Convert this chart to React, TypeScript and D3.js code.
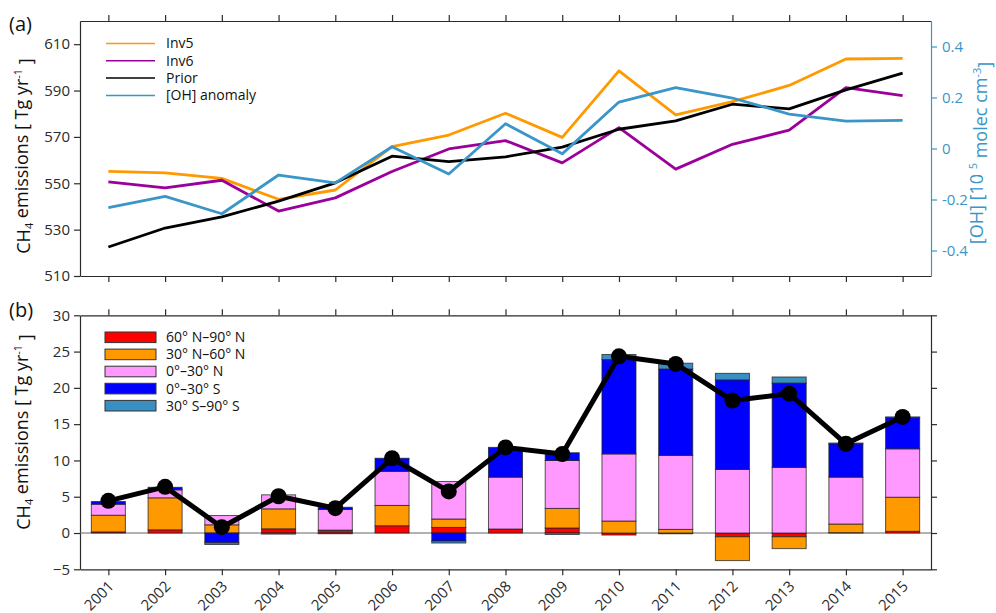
import { useEffect, useRef } from 'react';
import * as d3 from 'd3';

// years on the x axis
const years = [2001, 2002, 2003, 2004, 2005, 2006, 2007, 2008, 2009, 2010, 2011, 2012, 2013, 2014, 2015];

// panel (a): global emissions [Tg/yr] and OH anomaly [1e5 molec/cm3]
const inv5 = [555.1, 554.5, 552.1, 543.1, 547.1, 565.8, 570.8, 580.2, 569.8, 598.5, 579.5, 585.2, 592.2, 603.6, 603.9];
const inv6 = [550.6, 548.0, 551.3, 538.0, 543.7, 555.1, 564.8, 568.4, 558.8, 574.0, 556.1, 566.8, 572.9, 591.3, 587.8];
const prior = [522.5, 530.7, 535.5, 542.3, 550.2, 561.7, 559.3, 561.4, 565.6, 573.3, 576.9, 584.1, 582.1, 590.3, 597.5];
const ohAnomaly = [-0.232, -0.188, -0.256, -0.104, -0.135, 0.007, -0.1, 0.097, -0.021, 0.182, 0.239, 0.198, 0.135, 0.107, 0.11];

const leftTicksA = [510, 530, 550, 570, 590, 610];
const rightTicksA = [-0.4, -0.2, 0, 0.2, 0.4];

// panel (b): regional anomalies [Tg/yr]
const band60N90N = [0.15, 0.44, 0, 0.58, 0.35, 1.0, 0.77, 0.5, 0.69, -0.28, -0.1, -0.52, -0.52, 0.05, 0.23];
const band30N60N = [2.3, 4.41, 1.13, 2.75, 0.05, 2.8, 1.16, 0.05, 2.7, 1.65, 0.5, -3.28, -1.63, 1.19, 4.7];
const band0N30N = [1.52, 1.1, 1.28, 1.93, 2.85, 4.7, 5.17, 7.15, 6.61, 9.25, 10.2, 8.77, 9.05, 6.46, 6.67];
const band0S30S = [0.37, 0.35, -1.35, 0, 0.3, 1.8, -1.1, 4.1, 1.06, 13.0, 11.9, 12.33, 11.61, 4.6, 4.3];
const band30S90S = [0, 0, -0.23, -0.15, -0.1, 0, -0.28, 0, -0.2, 0.7, 0.8, 0.9, 0.84, 0.1, 0.1];
const totalB = [4.43, 6.36, 0.8, 5.07, 3.42, 10.3, 5.73, 11.8, 10.88, 24.35, 23.3, 18.25, 19.2, 12.3, 16.0];

const leftTicksB = [-5, 0, 5, 10, 15, 20, 25, 30];

const FONT = "'Open Sans', 'DejaVu Sans', sans-serif";
const AXIS = '#2b2b2b';
const OH_BLUE = '#3a96c8';

export default function App() {
  const ref = useRef<SVGSVGElement>(null);

  useEffect(() => {
    const svg = d3.select(ref.current);
    svg.selectAll('*').remove();

    const width = 996;
    const height = 613;
    svg.attr('width', width).attr('height', height);

    const x = d3.scaleLinear().domain([2000.5, 2015.5]).range([80, 931]);

    const styleAxis = (g: any, color: string) => {
      g.selectAll('path').attr('stroke', color).attr('stroke-width', 1.2);
      g.selectAll('line').attr('stroke', color).attr('stroke-width', 1.2);
      g.selectAll('text').attr('fill', color).style('font-size', '15px').style('font-family', FONT);
    };

    // ---------- panel (a) ----------
    const yA = d3.scaleLinear().domain([510, 620]).range([276, 21]);
    const yOH = d3.scaleLinear().domain([-0.5, 0.5]).range([276, 21]);

    const a = svg.append('g');

    a.append('g')
      .attr('transform', 'translate(0,21)')
      .call(d3.axisTop(x).tickValues(years).tickFormat(() => '').tickSize(6).tickSizeOuter(0))
      .call((g: any) => styleAxis(g, AXIS));
    a.append('g')
      .attr('transform', 'translate(0,276)')
      .call(d3.axisBottom(x).tickValues(years).tickFormat(() => '').tickSize(6).tickSizeOuter(0))
      .call((g: any) => styleAxis(g, AXIS));
    a.append('g')
      .attr('transform', 'translate(80,0)')
      .call(d3.axisLeft(yA).tickValues(leftTicksA).tickSize(6).tickSizeOuter(0).tickPadding(4))
      .call((g: any) => styleAxis(g, AXIS));
    a.append('g')
      .attr('transform', 'translate(931,0)')
      .call(d3.axisRight(yOH).tickValues(rightTicksA).tickFormat((d: any) => String(d)).tickSize(6).tickSizeOuter(0).tickPadding(5))
      .call((g: any) => styleAxis(g, OH_BLUE));

    const lineA = (vals: number[], y: any) =>
      d3.line<number>().x((_, i) => x(years[i])).y((d) => y(d))(vals);

    const seriesA = [
      { name: 'Inv5', vals: inv5, color: '#ff9900', y: yA },
      { name: 'Inv6', vals: inv6, color: '#9b009b', y: yA },
      { name: 'Prior', vals: prior, color: '#000000', y: yA },
      { name: '[OH] anomaly', vals: ohAnomaly, color: OH_BLUE, y: yOH },
    ];

    seriesA.forEach((s) => {
      a.append('path')
        .attr('fill', 'none')
        .attr('stroke', s.color)
        .attr('stroke-width', 2.8)
        .attr('stroke-linejoin', 'round')
        .attr('d', lineA(s.vals, s.y));
    });

    // legend (a)
    seriesA.forEach((s, i) => {
      const ly = 43.5 + i * 17.3;
      a.append('line')
        .attr('x1', 106).attr('x2', 155).attr('y1', ly).attr('y2', ly)
        .attr('stroke', s.color).attr('stroke-width', 1.5);
      a.append('text')
        .attr('x', 166).attr('y', ly).attr('dy', '0.35em')
        .style('font-family', FONT).style('font-size', '14px').attr('fill', '#111')
        .text(s.name);
    });

    // ---------- panel (b) ----------
    const yB = d3.scaleLinear().domain([-5, 30]).range([569.3, 315.3]);
    const b = svg.append('g');

    b.append('g')
      .attr('transform', 'translate(0,315.3)')
      .call(d3.axisTop(x).tickValues(years).tickFormat(() => '').tickSize(6).tickSizeOuter(0))
      .call((g: any) => styleAxis(g, AXIS));
    const bottomAxis = b.append('g')
      .attr('transform', 'translate(0,569.3)')
      .call(d3.axisBottom(x).tickValues(years).tickFormat(d3.format('d')).tickSize(6).tickSizeOuter(0))
      .call((g: any) => styleAxis(g, AXIS));
    bottomAxis.selectAll('text')
      .attr('text-anchor', 'end')
      .attr('dy', null)
      .attr('y', null)
      .attr('transform', 'translate(6,18) rotate(-45)');
    b.append('g')
      .attr('transform', 'translate(80,0)')
      .call(d3.axisLeft(yB).tickValues(leftTicksB).tickSize(6).tickSizeOuter(0).tickPadding(4))
      .call((g: any) => styleAxis(g, AXIS));
    b.append('g')
      .attr('transform', 'translate(931,0)')
      .call(d3.axisRight(yB).tickValues(leftTicksB).tickFormat(() => '').tickSize(6).tickSizeOuter(0))
      .call((g: any) => styleAxis(g, AXIS));

    // zero line
    b.append('line')
      .attr('x1', 80).attr('x2', 931).attr('y1', yB(0)).attr('y2', yB(0))
      .attr('stroke', '#666').attr('stroke-width', 1.2);

    const bands = [
      { key: 'n60', label: '60° N–90° N', vals: band60N90N, color: '#ff0000' },
      { key: 'n30', label: '30° N–60° N', vals: band30N60N, color: '#ff9900' },
      { key: 'n0', label: '0°–30° N', vals: band0N30N, color: '#ff99ff' },
      { key: 's0', label: '0°–30° S', vals: band0S30S, color: '#0000ff' },
      { key: 's30', label: '30° S–90° S', vals: band30S90S, color: '#3a8fc2' },
    ];

    const rows = years.map((yr, i) => {
      const r: any = { year: yr };
      bands.forEach((bd) => (r[bd.key] = bd.vals[i]));
      return r;
    });

    const stacked = d3.stack<any>()
      .keys(bands.map((bd) => bd.key))
      .offset(d3.stackOffsetDiverging)(rows);

    const barW = (x(2002) - x(2001)) * 0.6;

    stacked.forEach((layer, li) => {
      b.append('g')
        .selectAll('rect')
        .data(layer)
        .join('rect')
        .attr('x', (d: any) => x(d.data.year) - barW / 2)
        .attr('width', barW)
        .attr('y', (d: any) => yB(Math.max(d[0], d[1])))
        .attr('height', (d: any) => Math.abs(yB(d[0]) - yB(d[1])))
        .attr('fill', bands[li].color)
        .attr('stroke', '#222')
        .attr('stroke-opacity', 0.75)
        .attr('stroke-width', 1);
    });

    // total line with dots
    b.append('path')
      .attr('fill', 'none')
      .attr('stroke', '#000')
      .attr('stroke-width', 5)
      .attr('stroke-linejoin', 'round')
      .attr('d', d3.line<number>().x((_, i) => x(years[i])).y((d) => yB(d))(totalB));
    b.append('g')
      .selectAll('circle')
      .data(totalB)
      .join('circle')
      .attr('cx', (_, i) => x(years[i]))
      .attr('cy', (d) => yB(d))
      .attr('r', 8)
      .attr('fill', '#000');

    // legend (b)
    bands.forEach((bd, i) => {
      const ly = 337.3 + i * 17.1;
      b.append('rect')
        .attr('x', 105).attr('y', ly - 5.3).attr('width', 51).attr('height', 10.6)
        .attr('fill', bd.color).attr('stroke', '#333').attr('stroke-width', 1);
      b.append('text')
        .attr('x', 166).attr('y', ly).attr('dy', '0.35em')
        .style('font-family', FONT).style('font-size', '14px').attr('fill', '#111')
        .text(bd.label);
    });

    // ---------- labels ----------
    const yLabel = (cx: number, cy: number, color: string, parts: [string, string][]) => {
      const t = svg.append('text')
        .attr('transform', `translate(${cx},${cy}) rotate(-90)`)
        .attr('text-anchor', 'middle')
        .style('font-family', FONT)
        .style('font-size', '18px')
        .attr('fill', color);
      parts.forEach(([txt, kind]) => {
        const sp = t.append('tspan').text(txt);
        if (kind === 'sub') sp.attr('dy', '0.3em').style('font-size', '11px');
        if (kind === 'sup') sp.attr('dy', '-0.55em').style('font-size', '11px');
        if (kind === 'back-sub') sp.attr('dy', '-0.3em');
        if (kind === 'back-sup') sp.attr('dy', '0.55em');
      });
    };

    const ch4Parts: [string, string][] = [
      ['CH', ''], ['4', 'sub'], [' emissions [ Tg yr', 'back-sub'], ['-1', 'sup'], [' ]', 'back-sup'],
    ];
    yLabel(30, 156, '#111', ch4Parts);
    yLabel(30, 432, '#111', ch4Parts);
    yLabel(983, 153, OH_BLUE, [
      ['[OH] [10 ', ''], ['5', 'sup'], [' molec cm', 'back-sup'], ['-3', 'sup'], [']', 'back-sup'],
    ]);

    svg.append('text')
      .attr('x', 9).attr('y', 31)
      .style('font-family', FONT).style('font-size', '20px').attr('fill', '#111')
      .text('(a)');
    svg.append('text')
      .attr('x', 9).attr('y', 317)
      .style('font-family', FONT).style('font-size', '20px').attr('fill', '#111')
      .text('(b)');
  }, []);

  return <svg ref={ref} style={{ position: 'absolute', left: 0, top: 0, display: 'block' }}></svg>;
}
